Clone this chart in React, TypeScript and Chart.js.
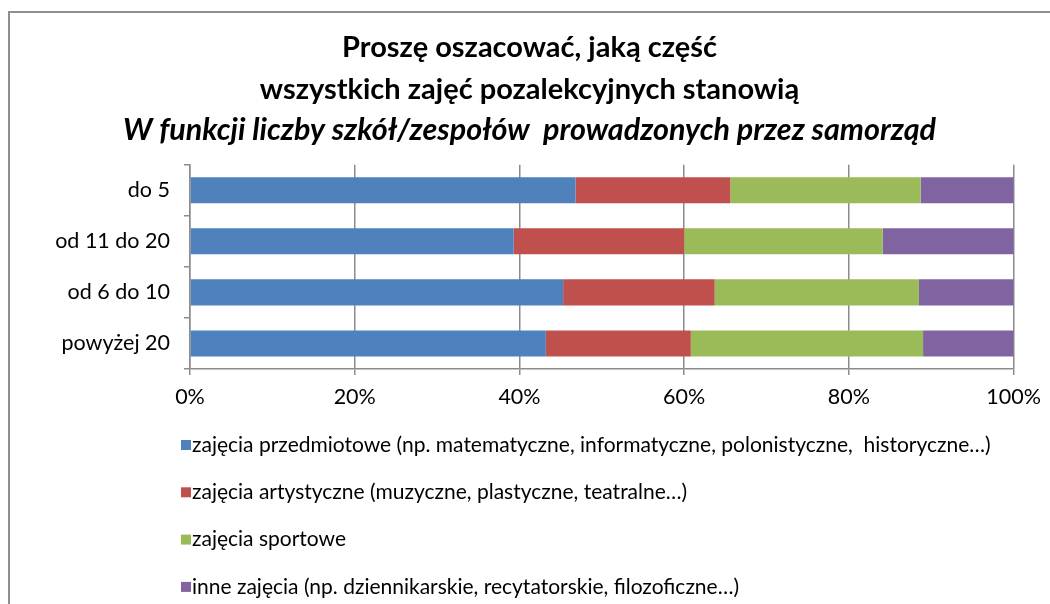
import React, { useEffect, useRef } from "react";
import { Chart, registerables } from "chart.js";

Chart.register(...registerables);

const FONT = "Lato, 'Open Sans', 'DejaVu Sans', sans-serif";

const categories = ["do 5", "od 11 do 20", "od 6 do 10", "powyżej 20"];
const seriesNames = [
  "zajęcia przedmiotowe (np. matematyczne, informatyczne, polonistyczne,  historyczne…)",
  "zajęcia artystyczne (muzyczne, plastyczne, teatralne…)",
  "zajęcia sportowe",
  "inne zajęcia (np. dziennikarskie, recytatorskie, filozoficzne…)",
];
const przedmiotowe = [46.8, 39.3, 45.3, 43.2];
const artystyczne = [18.8, 20.7, 18.4, 17.6];
const sportowe = [23.1, 24.1, 24.8, 28.2];
const inne = [11.3, 15.9, 11.5, 11.0];
const seriesColors = ["#4F81BD", "#C0504D", "#9BBB59", "#8064A2"];
const xTickLabels = ["0%", "20%", "40%", "60%", "80%", "100%"];
const titleLines = ["Proszę oszacować, jaką część", "wszystkich zajęć pozalekcyjnych stanowią"];
const subtitleLine = "W funkcji liczby szkół/zespołów  prowadzonych przez samorząd";

const columnLegend = {
  id: "columnLegend",
  afterDraw(chart: any) {
    const { ctx, chartArea } = chart;
    const box = 10;
    ctx.save();
    ctx.font = `21px ${FONT}`;
    ctx.textBaseline = "middle";
    ctx.textAlign = "left";
    chart.data.datasets.forEach((ds: any, i: number) => {
      const y = chartArea.bottom + 76 + i * 47.3;
      const x = chartArea.left - 9;
      ctx.fillStyle = ds.backgroundColor;
      ctx.fillRect(x, y - box / 2, box, box);
      ctx.fillStyle = "#000";
      ctx.fillText(ds.label, x + box + 1, y);
    });
    ctx.restore();
  },
};

export default function App() {
  const canvasRef = useRef<HTMLCanvasElement | null>(null);

  useEffect(() => {
    if (!canvasRef.current) return;
    const values = [przedmiotowe, artystyczne, sportowe, inne];
    const chart = new Chart(canvasRef.current, {
      type: "bar",
      data: {
        labels: categories,
        datasets: seriesNames.map((name, i) => ({
          label: name,
          data: values[i],
          backgroundColor: seriesColors[i],
          borderWidth: 0,
          categoryPercentage: 1,
          barPercentage: 0.51,
        })),
      },
      options: {
        indexAxis: "y",
        responsive: false,
        animation: false,
        layout: { padding: { left: 38, right: 29, top: 0, bottom: 195 } },
        plugins: {
          legend: { display: false },
          tooltip: { enabled: false },
          title: {
            display: true,
            text: titleLines,
            color: "#000",
            font: { family: FONT, size: 29, weight: "bold", lineHeight: 1.45 },
            padding: { top: 27, bottom: 0 },
          },
          subtitle: {
            display: true,
            text: subtitleLine,
            color: "#000",
            font: { family: FONT, size: 30.5, weight: "bold", style: "italic", lineHeight: 1.2 },
            padding: { top: 1, bottom: 16 },
          },
        },
        scales: {
          x: {
            stacked: true,
            min: 0,
            max: 100,
            afterFit: (s: any) => {
              s.height = 40;
            },
            ticks: {
              stepSize: 20,
              color: "#000",
              padding: 9,
              font: { family: FONT, size: 21.5 },
              callback: (_v: any, i: number) => xTickLabels[i],
            },
            grid: { color: "#8c8c8c", lineWidth: 1.5, tickLength: 6 },
            border: { color: "#8c8c8c", width: 1.5 },
          },
          y: {
            stacked: true,
            afterFit: (s: any) => {
              s.width = 152;
            },
            ticks: {
              color: "#000",
              padding: 14,
              font: { family: FONT, size: 21.5 },
            },
            grid: { drawOnChartArea: false, drawTicks: true, tickLength: 6, offset: true, color: "#8c8c8c", lineWidth: 1.5 },
            border: { color: "#8c8c8c", width: 1.5 },
          },
        },
      },
      plugins: [columnLegend],
    } as any);
    return () => chart.destroy();
  }, []);

  return (
    <div
      style={{
        position: "fixed",
        left: 0,
        top: 0,
        width: 1050,
        height: 604,
        overflow: "hidden",
        background: "#fff",
      }}
    >
      <div
        style={{
          position: "absolute",
          left: 8,
          top: 11,
          width: 1100,
          height: 700,
          border: "2px solid #8f8f8f",
          boxSizing: "border-box",
        }}
      />
      <canvas
        ref={canvasRef}
        width={1050}
        height={604}
        style={{ position: "absolute", left: 0, top: 0, width: 1050, height: 604, display: "block" }}
      />
    </div>
  );
}
